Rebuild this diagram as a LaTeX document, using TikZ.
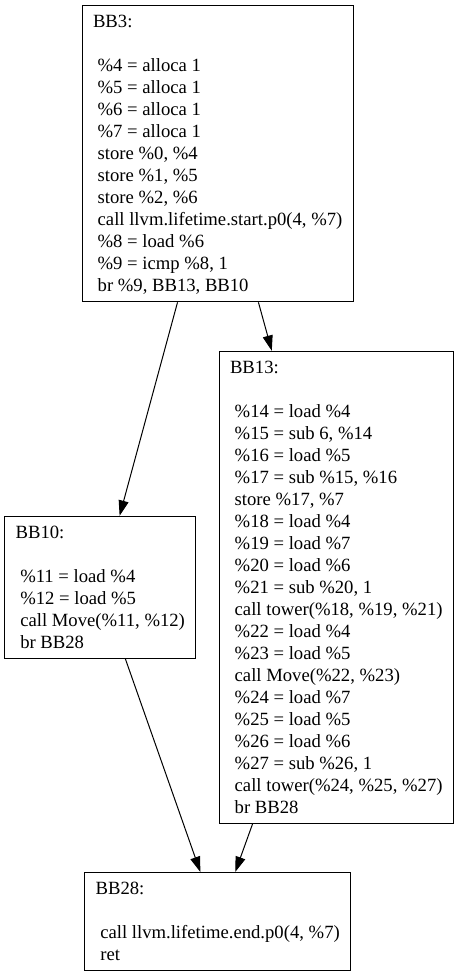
\documentclass[tikz,border=0pt]{standalone}
\usepackage{fontspec}
\setmainfont{Liberation Serif}
\usetikzlibrary{arrows.meta, positioning, calc}
\newcommand{\ldsp}{\hspace*{0.25em}}
\tikzset{
  block/.style={
    rectangle, draw=black, line width=0.75pt, align=left,
    inner xsep=8.25pt, inner ysep=0pt, text depth=7.5pt,
    font=\fontsize{14}{16.5}\selectfont
  },
  edge/.style={-{Triangle[length=11.5pt, width=7.5pt]}, line width=0.75pt}
}

\begin{document}
\begin{tikzpicture}[x=0.75pt, y=-0.75pt]
    \useasboundingbox (0,0) rectangle (458,977);
    \node[block, minimum width=201.5pt, text height=214.5pt] (bb3) at (217.7,153.8) {BB3:\\[16.5pt]
      \ldsp\%4 = alloca 1\\ \ldsp\%5 = alloca 1\\ \ldsp\%6 = alloca 1\\ \ldsp\%7 = alloca 1\\
      \ldsp store \%0, \%4\\ \ldsp store \%1, \%5\\ \ldsp store \%2, \%6\\
      \ldsp call llvm.lifetime.start.p0(4, \%7)\\
      \ldsp\%8 = load \%6\\ \ldsp\%9 = icmp \%8, 1\\ \ldsp br \%9, BB13, BB10};
    \node[block, minimum width=143pt, text height=99pt] (bb10) at (100.3,587.3) {BB10:\\[16.5pt]
      \ldsp\%11 = load \%4\\ \ldsp\%12 = load \%5\\
      \ldsp call Move(\%11, \%12)\\ \ldsp br BB28};
    \node[block, minimum width=174.5pt, text height=346.5pt] (bb13) at (336.3,587.3) {BB13:\\[16.5pt]
      \ldsp\%14 = load \%4\\ \ldsp\%15 = sub 6, \%14\\ \ldsp\%16 = load \%5\\
      \ldsp\%17 = sub \%15, \%16\\ \ldsp store \%17, \%7\\
      \ldsp\%18 = load \%4\\ \ldsp\%19 = load \%7\\ \ldsp\%20 = load \%6\\
      \ldsp\%21 = sub \%20, 1\\ \ldsp call tower(\%18, \%19, \%21)\\
      \ldsp\%22 = load \%4\\ \ldsp\%23 = load \%5\\ \ldsp call Move(\%22, \%23)\\
      \ldsp\%24 = load \%7\\ \ldsp\%25 = load \%5\\ \ldsp\%26 = load \%6\\
      \ldsp\%27 = sub \%26, 1\\ \ldsp call tower(\%24, \%25, \%27)\\ \ldsp br BB28};
    \node[block, minimum width=197.5pt, text height=66pt] (bb28) at (217.7,921.5) {BB28:\\[16.5pt]
      \ldsp call llvm.lifetime.end.p0(4, \%7)\\ \ldsp ret};
    % control flow edges
    \draw[edge] (bb3) -- (bb10);
    \draw[edge] (bb3) -- (bb13);
    \draw[edge] (bb10) -- (bb28);
    \draw[edge] (bb13) -- (bb28);
\end{tikzpicture}
\end{document}
